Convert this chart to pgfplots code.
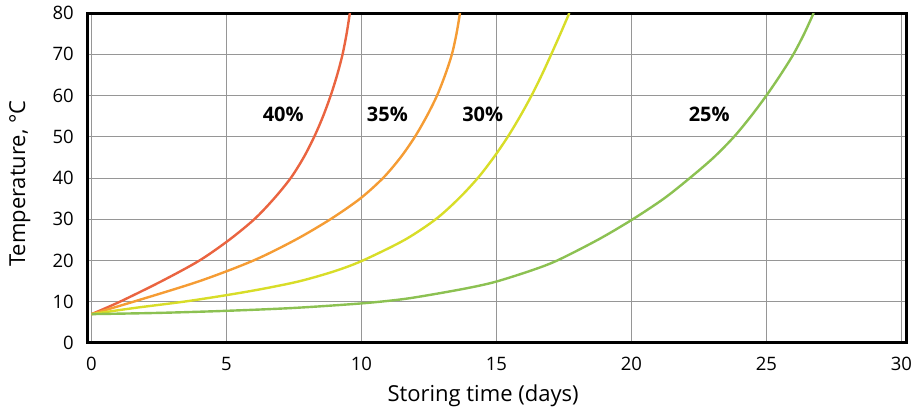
\documentclass[border=0pt]{standalone}
\usepackage{fontspec}
\setmainfont{Open Sans}
\usepackage{pgfplots}
\pgfplotsset{compat=1.18}
\definecolor{cRed}{RGB}{234,100,64}
\definecolor{cOrange}{RGB}{245,156,52}
\definecolor{cYellow}{RGB}{216,221,40}
\definecolor{cGreen}{RGB}{140,193,82}
\definecolor{cGrid}{RGB}{150,150,150}
\begin{document}
\begin{tikzpicture}
\useasboundingbox (-88pt,-66pt) rectangle (831pt,343pt);
\begin{axis}[
  scale only axis,
  width=818pt, height=330pt,
  xmin=-0.13, xmax=30.17, ymin=0, ymax=80,
  xtick={0,5,...,30}, ytick={0,10,...,80},
  grid=major,
  major grid style={cGrid, line width=1pt},
  major tick length=0pt,
  axis line style={black, line width=3pt},
  /pgf/number format/assume math mode=true,
  tick label style={font=\fontsize{18.5}{20}\selectfont, inner sep=0pt},
  xticklabel style={anchor=north, yshift=-14pt},
  yticklabel style={anchor=east, xshift=-14pt},
  xlabel={Storing time (days)},
  ylabel={Temperature, °C},
  label style={font=\fontsize{22}{24}\selectfont},
  xlabel style={at={(axis description cs:0.483,-0.177)}, anchor=base},
  ylabel style={at={(axis description cs:-0.077,0.483)}, anchor=base},
]
% 40%
\addplot[cRed, line width=2.4pt, smooth, no markers] coordinates {
 (0,7) (1.05,10) (2.6,15) (4.0,20) (5.1,25) (6.03,30) (6.76,35) (7.38,40) (7.86,45) (8.25,50) (8.58,55) (8.86,60) (9.1,65) (9.3,70) (9.45,75) (9.57,80)
};
% 35%
\addplot[cOrange, line width=2.4pt, smooth, no markers] coordinates {
 (0,7) (1.55,10) (4.0,15) (6.0,20) (7.55,25) (8.85,30) (9.95,35) (10.8,40) (11.45,45) (11.98,50) (12.42,55) (12.8,60) (13.1,65) (13.35,70) (13.52,75) (13.65,80)
};
% 30%
\addplot[cYellow, line width=2.4pt, smooth, no markers] coordinates {
 (0,7) (1.6,8.5) (3.4,10) (5.0,11.6) (6.4,13.2) (7.72,15) (9,17.4) (10.05,20) (11.6,25) (12.75,30) (13.6,35) (14.31,40) (14.9,45) (15.42,50) (15.88,55) (16.3,60) (16.68,65) (17.03,70) (17.37,75) (17.7,80)
};
% 25%
\addplot[cGreen, line width=2.4pt, smooth, no markers] coordinates {
 (0,7) (2.5,7.3) (5,7.8) (7.5,8.5) (10,9.6) (11.5,10.6) (12.66,11.8) (14,13.4) (15,14.9) (16.3,17.6) (17.25,20) (18.75,25) (20,29.8) (21.2,35) (22.2,40.2) (23.05,45) (23.8,50) (24.43,55) (25,60) (25.52,65) (26,70) (26.4,75) (26.75,80)
};
\node[anchor=base, font=\fontsize{20}{22}\selectfont\bfseries] at (axis cs:7.1,53.6) {40\%};
\node[anchor=base, font=\fontsize{20}{22}\selectfont\bfseries] at (axis cs:10.96,53.6) {35\%};
\node[anchor=base, font=\fontsize{20}{22}\selectfont\bfseries] at (axis cs:14.49,53.6) {30\%};
\node[anchor=base, font=\fontsize{20}{22}\selectfont\bfseries] at (axis cs:22.88,53.6) {25\%};
\end{axis}
\end{tikzpicture}
\end{document}
